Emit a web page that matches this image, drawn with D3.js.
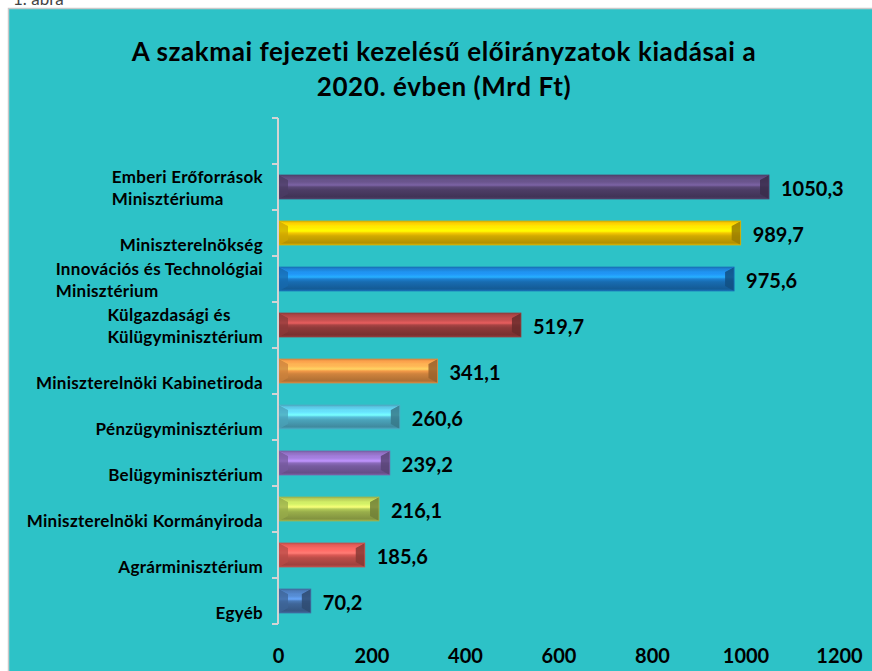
<!DOCTYPE html>
<html>
<head>
<meta charset="utf-8">
<script src="https://cdn.jsdelivr.net/npm/d3@7"></script>
<style>
  body { margin: 0; background: #fff; overflow: hidden; }
  svg { display: block; }
</style>
</head>
<body>
<script>
// chart data
const titleLines = ["A szakmai fejezeti kezelésű előirányzatok kiadásai a", "2020. évben (Mrd Ft)"];
const categories = [
  "Emberi Erőforrások\nMinisztériuma",
  "Miniszterelnökség",
  "Innovációs és Technológiai\nMinisztérium",
  "Külgazdasági és\nKülügyminisztérium",
  "Miniszterelnöki Kabinetiroda",
  "Pénzügyminisztérium",
  "Belügyminisztérium",
  "Miniszterelnöki Kormányiroda",
  "Agrárminisztérium",
  "Egyéb"
];
const values = [1050.3, 989.7, 975.6, 519.7, 341.1, 260.6, 239.2, 216.1, 185.6, 70.2];
const xTicks = [0, 200, 400, 600, 800, 1000, 1200];

// bar colours (one per category)
const barColors = ["#5a4878", "#f5c800", "#1c7fd0", "#a84444", "#f39a48", "#58c0dc",
                   "#8c6cbc", "#b4cc58", "#dc5a55", "#4a78b4"];

function drawChart() {
  var w = 872, h = 671;
  var font = "Lato, 'Open Sans', sans-serif";

  var svg = d3.select("body").append("svg")
    .attr("width", w)
    .attr("height", h);

  // little caption above the chart box (cut off at the top, as in the source)
  svg.append("text")
    .attr("x", 13)
    .attr("y", 5)
    .attr("font-family", font)
    .attr("font-size", "17px")
    .attr("fill", "#444")
    .text("1. ábra");

  // chart area
  svg.append("rect")
    .attr("x", 8.5)
    .attr("y", 8.5)
    .attr("width", 900)
    .attr("height", 700)
    .attr("fill", "#2dc2c7")
    .attr("stroke", "#c9c9c9")
    .attr("stroke-width", 1.5);

  // title
  svg.append("text")
    .attr("x", 444)
    .attr("font-family", font)
    .attr("font-weight", "bold")
    .attr("font-size", "26px")
    .attr("letter-spacing", "0.6px")
    .attr("fill", "#000")
    .attr("text-anchor", "middle")
    .selectAll("tspan")
    .data(titleLines)
    .enter()
    .append("tspan")
    .attr("x", 444)
    .attr("y", function(d, i) { return 61 + i * 35; })
    .text(function(d) { return d; });

  var x = d3.scaleLinear()
    .domain([0, 1200])
    .range([278, 839]);

  var y = d3.scaleBand()
    .domain(categories)
    .range([164, 624])
    .paddingInner(0.48)
    .paddingOuter(0.24);

  var defs = svg.append("defs");

  // vertical gradients for the bevelled bars
  values.forEach(function(d, i) {
    var c = d3.color(barColors[i]);
    var g = defs.append("linearGradient")
      .attr("id", "grad" + i)
      .attr("x1", 0).attr("y1", 0).attr("x2", 0).attr("y2", 1);
    var stops = [
      [0, c.darker(0.4)],
      [0.08, c.brighter(0.1)],
      [0.3, c.brighter(0.5)],
      [0.42, c.brighter(0.9)],
      [0.5, c],
      [0.62, c.darker(0.45)],
      [0.9, c.darker(0.9)],
      [1, c.darker(0.5)]
    ];
    stops.forEach(function(s) {
      g.append("stop").attr("offset", s[0]).attr("stop-color", s[1].formatHex());
    });
  });

  var bars = svg.selectAll(".bar")
    .data(values)
    .enter()
    .append("g")
    .attr("class", "bar");

  bars.each(function(d, i) {
    var g = d3.select(this);
    var c = d3.color(barColors[i]);
    var x0 = x(0) + 1, x1 = x(d);
    var y0 = y(categories[i]), y1 = y0 + y.bandwidth();
    var b = Math.min(9, (x1 - x0) / 2);

    g.append("rect")
      .attr("x", x0)
      .attr("y", y0)
      .attr("width", x1 - x0)
      .attr("height", y1 - y0)
      .attr("fill", "url(#grad" + i + ")");

    // inner bevel edge along the top
    g.append("path")
      .attr("d", "M" + x0 + "," + y0 + "L" + (x0 + b) + "," + (y0 + 5) +
                 "L" + (x1 - b) + "," + (y0 + 5) + "L" + x1 + "," + y0)
      .attr("fill", "none")
      .attr("stroke", c.brighter(0.6).formatHex())
      .attr("stroke-opacity", 0.5)
      .attr("stroke-width", 1);

    // left facet
    g.append("path")
      .attr("d", "M" + x0 + "," + y0 + "L" + (x0 + b) + "," + (y0 + 5) +
                 "L" + (x0 + b) + "," + (y1 - 5) + "L" + x0 + "," + y1 + "Z")
      .attr("fill", c.darker(0.5).formatHex())
      .attr("fill-opacity", 0.75);

    // right facet
    g.append("path")
      .attr("d", "M" + x1 + "," + y0 + "L" + (x1 - b) + "," + (y0 + 5) +
                 "L" + (x1 - b) + "," + (y1 - 5) + "L" + x1 + "," + y1 + "Z")
      .attr("fill", c.darker(1.3).formatHex())
      .attr("fill-opacity", 0.85);

    g.append("rect")
      .attr("x", x0)
      .attr("y", y0)
      .attr("width", x1 - x0)
      .attr("height", y1 - y0)
      .attr("fill", "none")
      .attr("stroke", c.darker(0.3).formatHex())
      .attr("stroke-width", 0.8);
  });

  // value labels
  svg.selectAll(".val")
    .data(values)
    .enter()
    .append("text")
    .attr("class", "val")
    .attr("x", function(d) { return x(d) + 12; })
    .attr("y", function(d, i) { return y(categories[i]) + y.bandwidth() / 2 + 1; })
    .attr("dominant-baseline", "central")
    .attr("font-family", font)
    .attr("font-weight", "bold")
    .attr("font-size", "20px")
    .attr("fill", "#000")
    .text(function(d) { return d.toFixed(1).replace(".", ","); });

  // category axis: line and ticks between categories
  var axisColor = "#d4d4d4";
  var top = y.range()[0] - y.step();
  svg.append("line")
    .attr("x1", 278).attr("x2", 278)
    .attr("y1", top).attr("y2", y.range()[1])
    .attr("stroke", axisColor)
    .attr("stroke-width", 2);
  var bounds = d3.range(categories.length + 2).map(function(k) { return top + k * y.step(); });
  svg.selectAll(".ytick")
    .data(bounds)
    .enter()
    .append("line")
    .attr("class", "ytick")
    .attr("x1", 272).attr("x2", 278)
    .attr("y1", function(d) { return d; })
    .attr("y2", function(d) { return d; })
    .attr("stroke", axisColor)
    .attr("stroke-width", 2);

  // category labels: block right-aligned, lines left-aligned
  var labels = svg.selectAll(".cat")
    .data(categories)
    .enter()
    .append("text")
    .attr("class", "cat")
    .attr("font-family", font)
    .attr("font-weight", "bold")
    .attr("font-size", "17px")
    .attr("letter-spacing", "0.3px")
    .attr("fill", "#000");

  labels.each(function(d) {
    var t = d3.select(this);
    var lines = d.split("\n");
    var c = y(d) + y.bandwidth() / 2;
    lines.forEach(function(l, k) {
      t.append("tspan")
        .attr("y", c + 11 + (k - (lines.length - 1)) * 22)
        .attr("dominant-baseline", "central")
        .text(l);
    });
    var maxW = 0;
    t.selectAll("tspan").each(function() {
      maxW = Math.max(maxW, this.getComputedTextLength());
    });
    t.selectAll("tspan").attr("x", 263 - maxW);
  });

  // value axis labels
  var xAxis = d3.axisBottom(x)
    .tickValues(xTicks)
    .tickSize(0)
    .tickFormat(d3.format("d"));

  var ax = svg.append("g")
    .attr("transform", "translate(0,656)")
    .call(xAxis);
  ax.select(".domain").remove();
  ax.selectAll("text")
    .attr("y", 0)
    .attr("dy", "0.35em")
    .attr("font-family", font)
    .attr("font-weight", "bold")
    .attr("font-size", "20px")
    .attr("fill", "#000");
}

window.onload = function() {
  drawChart();
};
</script>
</body>
</html>
